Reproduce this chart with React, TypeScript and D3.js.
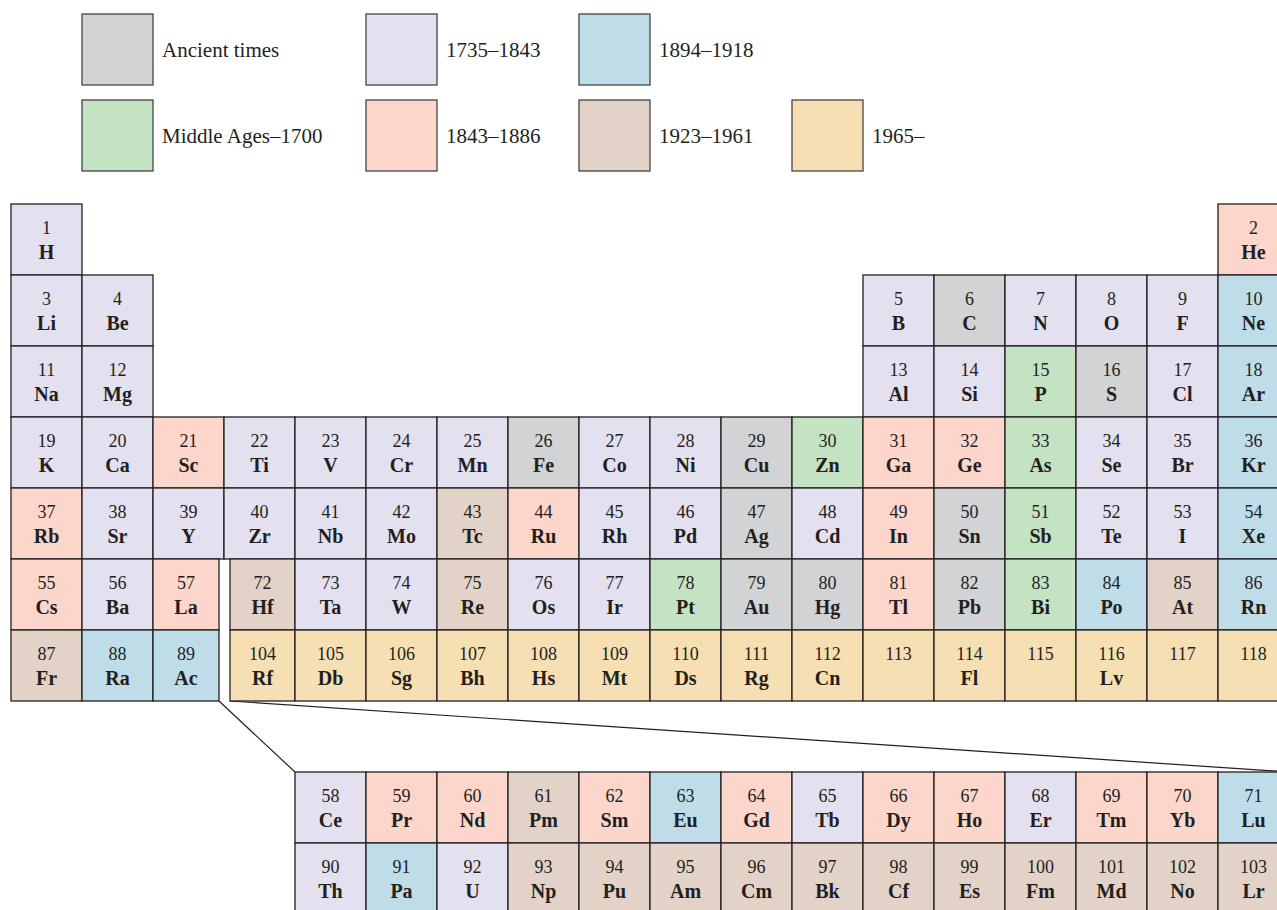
import React from 'react';
import * as d3 from 'd3';

// legend entries: era code, label, legend row, legend column
const eraCodes = ['A', 'L', 'B', 'M', 'S', 'T', 'Y'];
const eraLabels = ['Ancient times', '1735\u20131843', '1894\u20131918', 'Middle Ages\u20131700', '1843\u20131886', '1923\u20131961', '1965\u2013'];
const eraColors = ['#d1d3d4', '#e3e0ef', '#bedde9', '#c4e3c3', '#fcd6cb', '#e2d2c7', '#f6dfb2'];
const legendRow = [0, 0, 0, 1, 1, 1, 1];
const legendCol = [0, 1, 2, 0, 1, 2, 3];

// element symbols, index = atomic number - 1 (blank = no symbol shown)
const symbols = [
  'H', 'He',
  'Li', 'Be', 'B', 'C', 'N', 'O', 'F', 'Ne',
  'Na', 'Mg', 'Al', 'Si', 'P', 'S', 'Cl', 'Ar',
  'K', 'Ca', 'Sc', 'Ti', 'V', 'Cr', 'Mn', 'Fe', 'Co', 'Ni', 'Cu', 'Zn', 'Ga', 'Ge', 'As', 'Se', 'Br', 'Kr',
  'Rb', 'Sr', 'Y', 'Zr', 'Nb', 'Mo', 'Tc', 'Ru', 'Rh', 'Pd', 'Ag', 'Cd', 'In', 'Sn', 'Sb', 'Te', 'I', 'Xe',
  'Cs', 'Ba', 'La', 'Ce', 'Pr', 'Nd', 'Pm', 'Sm', 'Eu', 'Gd', 'Tb', 'Dy', 'Ho', 'Er', 'Tm', 'Yb', 'Lu',
  'Hf', 'Ta', 'W', 'Re', 'Os', 'Ir', 'Pt', 'Au', 'Hg', 'Tl', 'Pb', 'Bi', 'Po', 'At', 'Rn',
  'Fr', 'Ra', 'Ac', 'Th', 'Pa', 'U', 'Np', 'Pu', 'Am', 'Cm', 'Bk', 'Cf', 'Es', 'Fm', 'Md', 'No', 'Lr',
  'Rf', 'Db', 'Sg', 'Bh', 'Hs', 'Mt', 'Ds', 'Rg', 'Cn', '', 'Fl', '', 'Lv', '', '',
];

// discovery era per element, same order
const eras = (
  'LS' +
  'LLLALLLB' +
  'LLLLMALB' +
  'LLSLLLLALLAMSSMLLB' +
  'SLLLLLTSLLALSAMLLB' +
  'SLS' + 'LSSTSBSLSSLSSB' + 'TLLTLLMAASAMBTB' +
  'TBB' + 'LBL' + 'TTTTTTTTTTT' + 'YYYYYYYYYYYYYYY'
).split('');

// period (row) and group (column) of an element; rows 9/10 are the f-block rows
function place(z: number): { row: number; col: number } {
  if (z === 1) return { row: 1, col: 1 };
  if (z === 2) return { row: 1, col: 18 };
  if (z <= 10) return { row: 2, col: z <= 4 ? z - 2 : z + 8 };
  if (z <= 18) return { row: 3, col: z <= 12 ? z - 10 : z };
  if (z <= 36) return { row: 4, col: z - 18 };
  if (z <= 54) return { row: 5, col: z - 36 };
  if (z <= 57) return { row: 6, col: z - 54 };
  if (z <= 71) return { row: 9, col: z - 53 };
  if (z <= 86) return { row: 6, col: z - 68 };
  if (z <= 89) return { row: 7, col: z - 86 };
  if (z <= 103) return { row: 10, col: z - 85 };
  return { row: 7, col: z - 100 };
}

const ink = '#231f20';
const serif = '"Liberation Serif", "Times New Roman", serif';

export default function App() {
  const width = 1277;
  const height = 910;

  const x = d3.scaleBand<number>().domain(d3.range(1, 19)).range([11, 11 + 18 * 71]);
  const y = d3.scaleBand<number>().domain(d3.range(1, 11)).range([204, 204 + 10 * 71]);
  const cw = x.bandwidth();
  const ch = y.bandwidth();

  // legend columns are not evenly spaced (first label is wider)
  const lx = d3.scaleOrdinal<number, number>().domain([0, 1, 2, 3]).range([82, 366, 579, 792]);
  const ly = d3.scalePoint<number>().domain([0, 1]).range([14, 100]);
  const color = d3.scaleOrdinal<string, string>().domain(eraCodes).range(eraColors);

  const cells = symbols.map((sym, i) => {
    const z = i + 1;
    const p = place(z);
    let x0 = x(p.col)!;
    let w = cw;
    // small gap between group 3 and group 4 in periods 6 and 7
    if ((p.row === 6 || p.row === 7) && p.col === 3) w -= 5;
    if ((p.row === 6 || p.row === 7) && p.col === 4) { x0 += 6; w -= 6; }
    return { z, sym, era: eras[i], x0, y0: y(p.row)!, w };
  });

  const ac = cells[88];
  const rf = cells[103];
  const ce = cells[57];
  const lu = cells[70];
  const connectors = [
    [[ac.x0 + ac.w, ac.y0 + ch], [ce.x0, ce.y0]],
    [[rf.x0, rf.y0 + ch], [lu.x0 + lu.w, lu.y0]],
  ];
  const line = d3.line();

  return (
    <svg width={width} height={height} style={{ position: 'absolute', left: 0, top: 0, background: '#fff' }}
      fontFamily={serif}>
      <g className="legend">
        {eraCodes.map((code, i) => (
          <g key={code} transform={`translate(${lx(legendCol[i])},${ly(legendRow[i])})`}>
            <rect width={71} height={71} fill={color(code)} stroke="#444" strokeWidth={1.3} />
            <text x={80} y={43} fontSize={21} fill={ink}>{eraLabels[i]}</text>
          </g>
        ))}
      </g>
      <g className="connectors">
        {connectors.map((c, i) => (
          <path key={i} d={line(c as [number, number][]) ?? ''} stroke={ink} strokeWidth={1.2} fill="none" />
        ))}
      </g>
      <g className="cells">
        {cells.map((c) => (
          <g key={c.z} transform={`translate(${c.x0},${c.y0})`}>
            <rect width={c.w} height={ch} fill={color(c.era)} stroke={ink} strokeWidth={1.3} />
            <text x={c.w / 2} y={30} textAnchor="middle" fontSize={18} fill={ink}>{c.z}</text>
            {c.sym && (
              <text x={c.w / 2} y={55} textAnchor="middle" fontSize={20} fontWeight="bold" fill={ink}>{c.sym}</text>
            )}
          </g>
        ))}
      </g>
    </svg>
  );
}
